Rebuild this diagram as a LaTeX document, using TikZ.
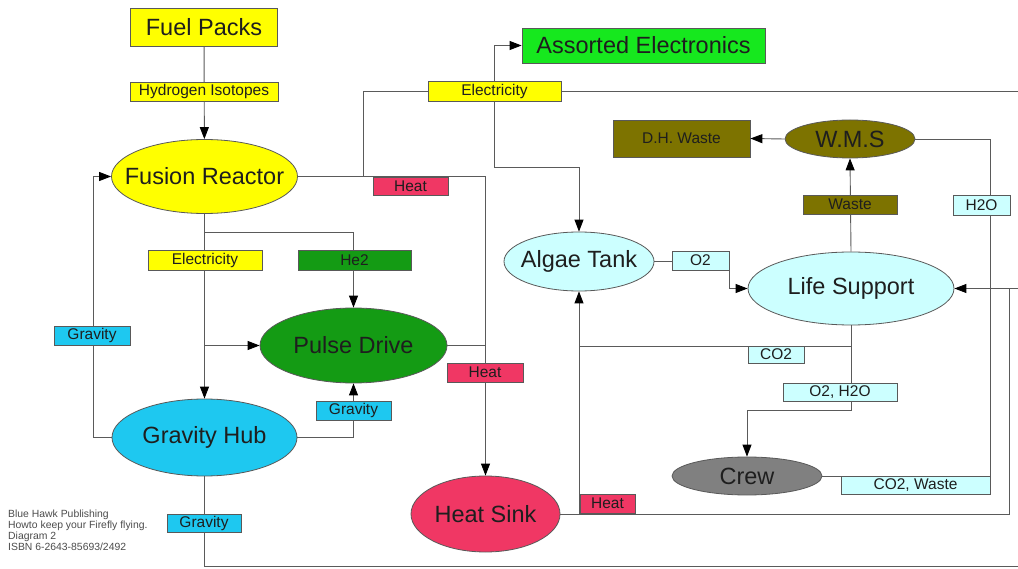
\documentclass[tikz,border=0pt]{standalone}
\usepackage{fontspec}
\setmainfont{Liberation Sans}
\usetikzlibrary{shapes.geometric,arrows.meta}

\definecolor{cyel}{RGB}{255,255,0}
\definecolor{cbright}{RGB}{22,232,30}
\definecolor{cgreen}{RGB}{20,155,20}
\definecolor{cheat}{RGB}{240,55,100}
\definecolor{cgrav}{RGB}{30,200,240}
\definecolor{cpale}{RGB}{204,255,255}
\definecolor{colive}{RGB}{125,115,0}
\definecolor{cgrey}{RGB}{128,128,128}
\definecolor{cline}{RGB}{90,90,90}
\definecolor{ctext}{RGB}{30,30,30}

% text of an oval, kept out of the shape's size computation
\newcommand{\ovaltext}[1]{\makebox[0pt]{#1}}

\begin{document}
\begin{tikzpicture}[x=1pt,y=-1pt,
  wire/.style={draw=cline, line width=0.9pt},
  flow/.style={wire, -{Triangle[length=12pt,width=9pt,color=black]}},
  bigtxt/.style={font=\fontsize{23.5}{27}\selectfont, text=ctext},
  smalltxt/.style={font=\fontsize{15.5}{17}\selectfont, text=ctext},
  box/.style={rectangle, draw=black!65, line width=0.8pt, inner sep=0pt},
  oval/.style={ellipse, draw=black!65, line width=0.8pt, inner sep=0pt, bigtxt},
  tag/.style={box, smalltxt},
]
\useasboundingbox[fill=white] (0,0) rectangle (1018,569);

% ---- main blocks ----
\node[box, bigtxt, fill=cyel, minimum width=147pt, minimum height=38pt] (fuel) at (204,27) {Fuel Packs};
\node[oval, fill=cyel, minimum width=186pt, minimum height=74pt] (fusion) at (204.5,176.5) {\ovaltext{Fusion Reactor}};
\node[oval, fill=cgreen, minimum width=187pt, minimum height=75pt] (pulse) at (353.5,345.5) {\ovaltext{Pulse Drive}};
\node[oval, fill=cgrav, minimum width=185pt, minimum height=77pt] (gravhub) at (204.5,437.5) {\ovaltext{Gravity Hub}};
\node[oval, fill=cheat, minimum width=149pt, minimum height=76pt] (heatsink) at (485.5,514) {\ovaltext{Heat Sink}};
\node[box, bigtxt, fill=cbright, minimum width=243pt, minimum height=35pt] (assorted) at (643.5,45.5) {Assorted Electronics};
\node[oval, fill=cpale, minimum width=150pt, minimum height=59pt] (algae) at (579,261.5) {\ovaltext{Algae Tank}};
\node[oval, fill=cpale, minimum width=206pt, minimum height=73pt] (life) at (851,288.5) {\ovaltext{Life Support}};
\node[oval, fill=colive, minimum width=130pt, minimum height=38pt] (wms) at (850,139) {\ovaltext{W.M.S}};
\node[box, smalltxt, fill=colive, minimum width=137pt, minimum height=37pt] (dh) at (681.5,138.5) {D.H. Waste};
\node[oval, fill=cgrey, minimum width=150pt, minimum height=38pt] (crew) at (747,476) {\ovaltext{Crew}};

% ---- junctions and bends ----
\coordinate (jfa) at (204.5,232);
\coordinate (jfb) at (204.5,345.5);
\coordinate (gl) at (93,437.5);
\coordinate (gbot) at (204.5,566);
\coordinate (gout) at (1030,566);
\coordinate (hup) at (363,176.5);
\coordinate (ebend) at (363,91);
\coordinate (eout) at (1030,91);
\coordinate (esplit) at (494.5,91);
\coordinate (edown) at (494.5,167);
\coordinate (pjoin) at (485.5,345.5);
\coordinate (sright) at (1009,288.5);
\coordinate (sup) at (579,514);
\coordinate (ljoin) at (851,346);
\coordinate (ajoin) at (579,346);
\coordinate (lbend) at (851,410.5);
\coordinate (obend) at (729,261.5);
\coordinate (cjoin) at (990,476);

% ---- connectors ----
\draw[flow] (fuel) -- (fusion);
\draw[flow] (fusion) -- (gravhub);
\draw[flow] (jfa) -| (pulse);
\draw[flow] (jfb) -- (pulse);
\draw[flow] (gravhub.west) -- (gl) |- (fusion.west);
\draw[flow] (gravhub.east) -| (pulse.south);
\draw[wire] (gravhub.south) -- (gbot) -- (gout);
\draw[flow] (fusion.east) -| (heatsink.north);
\draw[wire] (pulse.east) -- (pjoin);
\draw[flow] (hup) -- (ebend) -- (eout) |- (life.east);
\draw[flow] (esplit) |- (assorted.west);
\draw[flow] (esplit) -- (edown) -| (algae.north);
\draw[wire] (heatsink.east) -| (sright);
\draw[flow] (sup) -- (algae.south);
\draw[wire] (ljoin) -- (ajoin);
\draw[flow] (life.south) -- (lbend) -| (crew.north);
\draw[flow] (algae.east) -- (obend) |- (life.west);
\draw[flow] (life.north) -- (wms.south);
\draw[flow] (wms.west) -- (dh.east);
\draw[wire] (wms.east) -| (cjoin) -- (crew.east);

% ---- flow labels ----
\node[tag, fill=cyel, minimum width=148pt, minimum height=19pt] (thiso) at (204,91.5) {Hydrogen Isotopes};
\node[tag, fill=cyel, minimum width=114pt, minimum height=20pt] (telec) at (205,260) {Electricity};
\node[tag, fill=cgreen, minimum width=113pt, minimum height=20pt] (the) at (354.5,260) {He2};
\node[tag, fill=cgrav, minimum width=76pt, minimum height=19pt] (tgl) at (92,335.5) {Gravity};
\node[tag, fill=cgrav, minimum width=75pt, minimum height=19pt] (tgr) at (353.5,410.5) {Gravity};
\node[tag, fill=cgrav, minimum width=74pt, minimum height=18pt] (tgb) at (204,523) {Gravity};
\node[tag, fill=cheat, minimum width=75pt, minimum height=18pt] (theata) at (410.5,186) {Heat};
\node[tag, fill=cheat, minimum width=76pt, minimum height=19pt] (theatb) at (485,372.5) {Heat};
\node[tag, fill=cheat, minimum width=55pt, minimum height=19pt] (theatc) at (607.5,503.5) {Heat};
\node[tag, fill=cyel, minimum width=133pt, minimum height=20pt] (telec2) at (494.5,91) {Electricity};
\node[tag, fill=cpale, minimum width=57pt, minimum height=19pt] (to2) at (700.5,260.5) {O2};
\node[tag, fill=colive, minimum width=94pt, minimum height=19pt] (twaste) at (850,204.5) {Waste};
\node[tag, fill=cpale, minimum width=57pt, minimum height=20pt] (th2o) at (981.5,205) {H2O};
\node[tag, fill=cpale, minimum width=56pt, minimum height=17pt] (tco2) at (776,354.5) {CO2};
\node[tag, fill=cpale, minimum width=114pt, minimum height=18pt] (to2h2o) at (840,392) {O2, H2O};
\node[tag, fill=cpale, minimum width=149pt, minimum height=18pt] (tco2w) at (915.5,485) {CO2, Waste};

% ---- imprint ----
\node[anchor=north west, inner sep=0pt, align=left, text=black!70,
      font=\fontsize{10.4}{10.8}\selectfont] (imprint) at (8,510)
  {Blue Hawk Publishing\\Howto keep your Firefly flying.\\Diagram 2\\ISBN 6-2643-85693/2492};
\end{tikzpicture}
\end{document}
